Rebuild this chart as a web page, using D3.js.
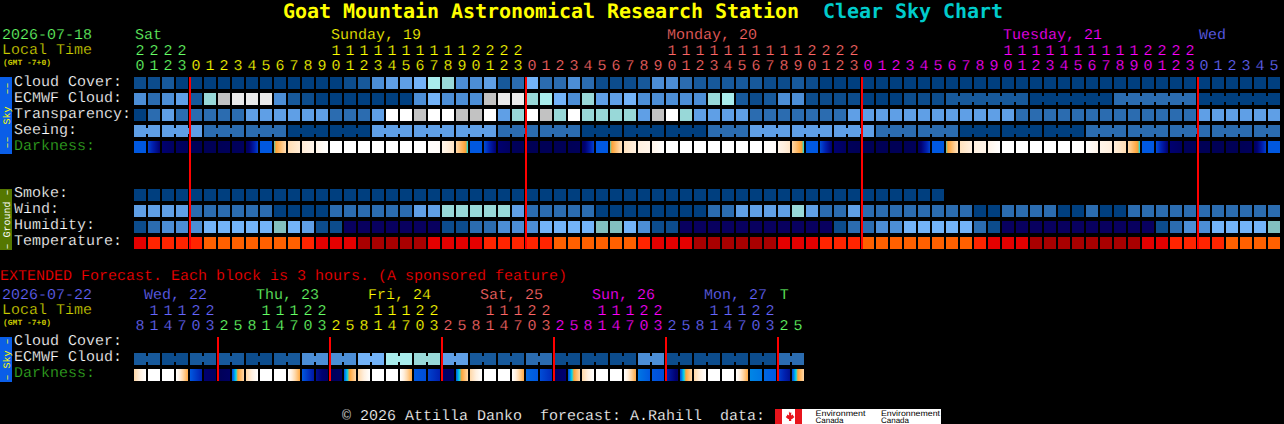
<!DOCTYPE html>
<html><head><meta charset="utf-8">
<script src="https://cdn.jsdelivr.net/npm/d3@7/dist/d3.min.js"></script>
<style>html,body{margin:0;padding:0;background:#000;overflow:hidden}svg{display:block}text{font-family:"Liberation Mono",monospace;font-size:15px;white-space:pre;text-rendering:geometricPrecision;stroke:#000;stroke-width:.22px;paint-order:fill stroke}</style>
</head><body><svg id="c" width="1284" height="424"></svg>
<script>
// ---------- data ----------
const mainHours=[20,21,22,23,0,1,2,3,4,5,6,7,8,9,10,11,12,13,14,15,16,17,18,19,20,21,22,23,0,1,2,3,4,5,6,7,8,9,10,11,12,13,14,15,16,17,18,19,20,21,22,23,0,1,2,3,4,5,6,7,8,9,10,11,12,13,14,15,16,17,18,19,20,21,22,23,0,1,2,3,4,5];
const mainDayStarts=[0,4,28,52,76];
const mainDayLabels=[{col:0,text:"Sat"},{col:14,text:"Sunday, 19"},{col:38,text:"Monday, 20"},{col:62,text:"Tuesday, 21"},{col:76,text:"Wed"}];
const cloudCover=[1,1,2,0,0,0,0,0,0,0,0,0,0,0,0,1,2,4,5,5,6,7,8,4,4,5,2,3,6,3,3,4,3,1,1,1,2,4,4,3,2,2,2,2,2,1,1,2,1,0,0,0,0,0,0,0,0,0,0,0,0,0,0,0,0,0,0,0,0,0,0,0,0,0,0,0,0,0,0,0,0,0];
const ecmwfCloud=[4,3,4,5,2,8,9,10,10,10,4,2,1,0,0,0,0,0,0,0,4,6,4,4,4,9,10,10,8,7,6,4,8,5,5,6,4,4,4,4,4,8,7,2,1,2,4,4,1,1,1,1,0,0,0,1,1,1,2,2,2,2,2,2,0,0,0,0,0,0,3,3,3,3,3,3,0,0,0,0,0,0];
const ecmwfBlocks=[[58,63],[64,69],[70,75],[76,81]];
const transparency=[0,3,5,3,3,3,3,3,5,5,5,5,5,5,3,3,3,5,11,11,9,11,11,9,9,11,5,8,11,9,8,11,8,8,8,8,5,9,11,8,5,5,5,5,3,3,3,3,3,3,3,5,5,5,5,5,5,5,5,5,5,5,5,3,3,3,3,3,3,3,3,3,3,3,3,3,5,5,5,5,5,5];
const seeing=[5,5,5,5,5,3,3,3,3,3,3,0,0,0,0,0,0,5,5,5,5,5,5,5,5,5,3,3,3,3,3,3,0,0,0,0,0,0,0,0,0,3,3,3,5,5,5,5,5,5,5,5,5,3,3,3,3,3,3,0,0,0,0,0,0,0,0,0,3,3,3,3,3,3,3,3,3,3,3,3,3,3];
const seeingBlocks=[[0,1],[2,4],[5,7],[8,10],[11,13],[14,16],[17,19],[20,22],[23,25],[26,28],[29,31],[32,34],[35,37],[38,40],[41,43],[44,46],[47,49],[50,52],[53,55],[56,58],[59,61],[62,64],[65,67],[68,70],[71,73],[74,76],[77,79],[80,81]];
const darkStart=[3,2.6,1,.5,.2,.2,.2,.3,.4,3,4,6.2,6.8,7.3,8,8,8,8,8,8,8,7.9,7.3,6,3,2.8,1,.3,.1,.2,.2,.2,.5,3,4,6.4,7,7.3,8,8,8,8,8,8,8,7.9,7.3,6,3,2.8,1,.3,.2,.2,.2,.2,.5,3,4,6.4,7,7.3,8,8,8,8,8,8,7.9,7.3,6.9,6,3,2.8,1,.3,.2,.2,.2,.2,.5,3];
const darkEnd=[3,1,.5,.3,.2,.2,.3,.4,2.6,3,6.2,6.8,7.3,8,8,8,8,8,8,8,8,7.8,6.5,3.9,3,1,.5,.2,.2,.2,.2,.3,2.6,3,6.4,7,7.3,8,8,8,8,8,8,8,8,7.8,6.6,3.9,3,1,.5,.2,.2,.2,.2,.3,2.6,3,6.4,7,7.3,8,8,8,8,8,8,7.9,7.3,6.9,6.2,3.9,3,1,.5,.3,.2,.2,.2,.3,2.6,3];
const smoke=Array.from("0000000000000000000000000000000000000000000000000000000000",Number);
const wind=[5,5,5,5,3,3,3,3,3,3,0,0,0,0,3,3,3,3,3,3,5,5,8,8,8,8,8,5,3,3,3,3,3,0,0,0,0,0,0,0,0,3,3,5,5,5,5,8,5,3,3,5,3,3,3,3,3,3,3,3,0,0,3,3,3,3,0,0,3,0,0,3,3,3,3,3,3,3,3,3,3,3];
const humidity=[1,3,4,4,4,6,6,6,6,6,13,6,5,1,1,12,12,12,12,12,12,12,1,1,3,3,4,4,4,6,6,6,6,13,13,6,4,1,1,12,12,12,12,12,12,12,12,12,12,12,1,3,3,4,4,6,6,6,6,6,3,1,12,12,12,12,12,12,12,12,12,12,12,1,3,4,4,6,6,6,6,13];
const temperature=[1,2,2,2,2,3,3,3,3,3,3,3,2,1,1,1,0,0,0,0,0,1,1,1,1,2,2,2,2,2,3,3,3,3,3,3,2,1,1,1,0,0,0,0,0,0,1,1,1,2,2,2,3,3,3,3,3,3,3,3,2,1,1,1,0,0,0,0,0,0,0,0,1,1,2,2,2,2,3,3,3,3];
const extHours=[8,11,14,17,20,23,2,5,8,11,14,17,20,23,2,5,8,11,14,17,20,23,2,5,8,11,14,17,20,23,2,5,8,11,14,17,20,23,2,5,8,11,14,17,20,23,2,5];
const extDayStarts=[0,6,14,22,30,38,46];
const extDayLabels=[{col:0.65,text:"Wed, 22"},{col:8.65,text:"Thu, 23"},{col:16.65,text:"Fri, 24"},{col:24.65,text:"Sat, 25"},{col:32.65,text:"Sun, 26"},{col:40.65,text:"Mon, 27"},{col:46.05,text:"T"}];
const extEcmwf=[2,2,1,1,2,2,2,2,1,1,2,2,4,4,4,4,6,6,7,7,8,8,5,5,2,2,2,2,3,3,1,1,1,1,1,1,4,4,1,1,1,1,1,1,1,1,3,3];
const extBlocks=[[0,1],[2,3],[4,5],[6,7],[8,9],[10,11],[12,13],[14,15],[16,17],[18,19],[20,21],[22,23],[24,25],[26,27],[28,29],[30,31],[32,33],[34,35],[36,37],[38,39],[40,41],[42,43],[44,45],[46,47]];
const extDarkStart=[6,8,8,8,3,1,.2,2.8,6,8,8,8,3,1.5,.2,3,6,8,8,8,3,2.6,.7,3,6,8,8,8,3.1,2.8,.6,2.8,6,8,8,8,3.2,3,2,2.8,6,8,8,8,3.3,3.1,2.6,2.8];
const extDarkEnd=[8,8,8,4.6,2,.5,.6,6,8,8,8,4.6,1.8,.5,.7,6,8,8,8,4.6,2.8,2,.8,6,8,8,8,4.6,3,2.2,1,6,8,8,8,4.6,3,2.8,.8,6,8,8,8,4.6,3.2,3,1.5,6];
const cloudLevels=d3.range(14);
const cloudColors=["#003f7f","#0c4c8c","#17599b","#2b6cb0","#4c8ed6","#5f9fe6","#73b3f8","#a8ecec","#98d8d8","#c2c2c2","#eaeaea","#ffffff","#08005f","#82bfbf"];
const tempColors=["#a80000","#e40000","#ff2400","#ff6000"];
const dayColors=["#66ff66","#ffff00","#ff6666","#ff00ff","#6666ff"];
const extDayColors=["#6666ff","#66ff66","#ffff00","#ff6666","#ff00ff","#6666ff","#66ff66"];
const darkValues=[0,1,2,3,3.9,4.3,6,7,8];
const darkColors=["#000050","#000070","#0020b0","#0058e0","#00e0f0","#ffa030","#ffd8a8","#fff0e0","#ffffff"];
// ---------- scales ----------
const svg=d3.select("#c");
const x=d3.scaleLinear().domain([0,1]).range([134,148]);
const cw=12,ch=12;
const lvl=d3.scaleOrdinal(cloudLevels,cloudColors);
const tmp=d3.scaleOrdinal([0,1,2,3],tempColors);
const dark=d3.scaleLinear(darkValues,darkColors).clamp(true);
const defs=svg.append("defs");
const mainDay=d3.scaleThreshold(mainDayStarts.slice(1),dayColors);
const extDay=d3.scaleThreshold(extDayStarts.slice(1),extDayColors);
svg.append("rect").attr("width",1284).attr("height",424).attr("fill","#000");
function text(t,px,py,fill,o={}){const e=svg.append("text").attr("x",px).attr("y",py).attr("fill",fill).text(t);
  for(const k in o)e.style(k,o[k]);return e;}
// ---------- header ----------
const titleStyle={"font-family":"DejaVu Sans Mono","font-weight":"bold","font-size":"20px","stroke":"none"};
text("Goat Mountain Astronomical Research Station",283,18,"#ffff00",titleStyle).attr("textLength",516);
text("Clear Sky Chart",823,18,"#00cccc",titleStyle).attr("textLength",180);
function header(dateT,y0,dayLabels,hours,colorOf,dateC,localY,tensY,digitY){
  text(dateT,2,y0,dateC);
  text("Local Time",2,localY,"#cccc00");
  text("(GMT -7+0)",3,digitY-5,"#cccc00",{"font-size":"8px","font-weight":"bold","stroke":"none"});
  dayLabels.forEach(d=>text(d.text,x(d.col)+1,y0,colorOf(Math.ceil(d.col))));
  const g=svg.append("g");
  g.selectAll("text.t").data(hours.map((h,i)=>({h,i})).filter(d=>d.h>=10)).join("text").attr("class","t")
   .attr("x",d=>x(d.i)+cw/2).attr("y",tensY).attr("text-anchor","middle").attr("fill",d=>colorOf(d.i)).text(d=>Math.floor(d.h/10));
  g.selectAll("text.u").data(hours.map((h,i)=>({h,i}))).join("text").attr("class","u")
   .attr("x",d=>x(d.i)+cw/2).attr("y",digitY).attr("text-anchor","middle").attr("fill",d=>colorOf(d.i)).text(d=>d.h%10);
}
header("2026-07-18",39,mainDayLabels,mainHours,mainDay,"#66ff66",54,55,70);
header("2026-07-22",299,extDayLabels,extHours,extDay,"#6666ff",314,314.5,329.5);
// ---------- rows ----------
function row(vals,top,scale,blocks){
  const g=svg.append("g");
  g.selectAll("rect.c").data(vals).join("rect").attr("class","c").attr("x",(d,i)=>x(i)).attr("y",top).attr("width",cw).attr("height",ch).attr("fill",d=>scale(d));
  (blocks||[]).forEach(([a,b])=>{
    const links=d3.range(a,b);
    g.selectAll(null).data(links).join("rect").attr("x",i=>x(i)+cw).attr("y",top+3).attr("width",x(1)-x(0)-cw).attr("height",ch-6).attr("fill",i=>scale(vals[i]));
  });
}
let gid=0;
function darkRow(starts,ends,top){
  const g=svg.append("g");
  starts.forEach((s,i)=>{
    const id="dk"+(gid++),e=ends[i];
    const gr=defs.append("linearGradient").attr("id",id);
    d3.range(0,13).forEach(k=>gr.append("stop").attr("offset",(k/12*100)+"%").attr("stop-color",dark(s+(e-s)*k/12)));
    g.append("rect").attr("x",x(i)).attr("y",top).attr("width",cw).attr("height",ch).attr("fill",`url(#${id})`);
  });
}
row(cloudCover,77,lvl);
row(ecmwfCloud,93,lvl,ecmwfBlocks);
row(transparency,109,lvl);
row(seeing,125,lvl,seeingBlocks);
darkRow(darkStart,darkEnd,141);
row(smoke,189,lvl);
row(wind,205,lvl);
row(humidity,221,lvl);
row(temperature,237,tmp);
row(extEcmwf,353,lvl,extBlocks);
darkRow(extDarkStart,extDarkEnd,369);
// ---------- row labels ----------
[["Cloud Cover:",86,"#fff"],["ECMWF Cloud:",102,"#fff"],["Transparency:",118,"#fff"],["Seeing:",134,"#fff"],["Darkness:",150,"#33aa22"],
 ["Smoke:",197,"#fff"],["Wind:",213,"#fff"],["Humidity:",229,"#fff"],["Temperature:",245,"#fff"],
 ["Cloud Cover:",345,"#fff"],["ECMWF Cloud:",361,"#fff"],["Darkness:",377,"#33aa22"]].forEach(d=>text(d[0],14,d[1],d[2]));
// ---------- side bars ----------
function side(t,y0,y1,bg,fg){
  svg.append("rect").attr("x",0).attr("y",y0).attr("width",12).attr("height",y1-y0).attr("fill",bg);
  svg.append("text").attr("transform",`translate(9.5,${(y0+y1)/2}) rotate(-90)`).attr("text-anchor","middle").attr("fill",fg).style("font-size","10px").style("stroke","none").text(t);
}
side("––  Sky  ––",77,154,"#0a5ee8","#ffff00");
side("– Ground –",189,250,"#557700","#ffffff");
side("– Sky –",337,382,"#0a5ee8","#ffff00");
// ---------- midnight lines ----------
function lines(cols,y0,y1){svg.append("g").selectAll("rect").data(cols).join("rect").attr("x",c=>x(c)-1).attr("y",y0).attr("width",2).attr("height",y1-y0).attr("fill","#ff0000");}
lines(mainHours.map((h,i)=>h===0?i:-1).filter(i=>i>=0),77,249);
lines(extHours.map((h,i)=>h===2?i:-1).filter(i=>i>=0),337,381);
// ---------- extended caption, footer ----------
text("EXTENDED Forecast. Each block is 3 hours. (A sponsored feature)",0,280,"#ff0000");
text("© 2026 Attilla Danko  forecast: A.Rahill  data:",342,419.5,"#ffffff");
svg.append("rect").attr("x",775).attr("y",409).attr("width",166).attr("height",15).attr("fill","#fff");
svg.append("rect").attr("x",775).attr("y",409).attr("width",7).attr("height",15).attr("fill","#e8141c");
svg.append("rect").attr("x",795).attr("y",409).attr("width",7).attr("height",15).attr("fill","#e8141c");
svg.append("path").attr("d","M788.5 411l1.3 2 1.6-.6-.4 3 1.8-.8.6 1.4 1.1 1-2.4 2-1 .2.2 1.8h-2.4l.2-1.8-1-.2-2.4-2 1.1-1 .6-1.4 1.8.8-.4-3 1.6.6z").attr("fill","#e8141c");
[["Environment",815.5,416,50],["Canada",815.5,423,28],["Environnement",881,416,59],["Canada",881,423,28]].forEach(d=>
  svg.append("text").attr("x",d[1]).attr("y",d[2]).attr("fill","#000").style("stroke","none").attr("textLength",d[3]).attr("lengthAdjust","spacingAndGlyphs").style("font-family","Liberation Sans").style("font-size","8px").text(d[0]));
</script></body></html>
